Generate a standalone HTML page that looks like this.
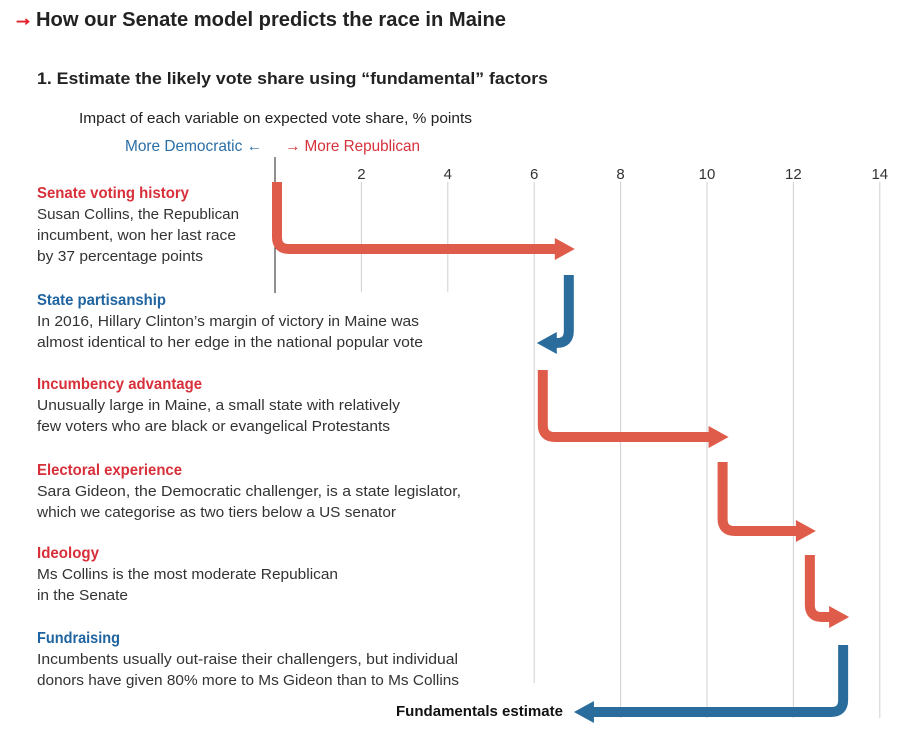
<!DOCTYPE html>
<html><head><meta charset="utf-8"><style>
html,body{margin:0;padding:0;background:#fff;width:915px;height:735px;overflow:hidden}
svg{display:block;font-family:"Liberation Sans",sans-serif}
.b{fill:#333;font-size:15px}
.r{fill:#d7303a;font-size:16px;font-weight:bold}
.u{fill:#1f64a0;font-size:16px;font-weight:bold}
</style></head><body>
<svg id="chart" width="915" height="735" viewBox="0 0 915 735">
<text x="13" y="25" fill="#e3202a" font-size="20" font-weight="bold" stroke="#e3202a" stroke-width="1">→</text>
<text x="36" y="26" fill="#222" font-size="20" font-weight="bold" textLength="470" lengthAdjust="spacingAndGlyphs">How our Senate model predicts the race in Maine</text>
<text x="37" y="84" fill="#222" font-size="17" font-weight="bold" textLength="511" lengthAdjust="spacingAndGlyphs">1. Estimate the likely vote share using “fundamental” factors</text>
<text x="79" y="123" fill="#222" font-size="15" textLength="393" lengthAdjust="spacingAndGlyphs">Impact of each variable on expected vote share, % points</text>
<text x="125" y="151" fill="#2a6ea6" font-size="16" textLength="137" lengthAdjust="spacingAndGlyphs">More Democratic ←</text>
<text x="285" y="151" fill="#d7303a" font-size="16" textLength="135" lengthAdjust="spacingAndGlyphs">→ More Republican</text>
<g id="grid"></g>
<g id="arrows"></g>

<text class="r" x="37" y="198" textLength="152" lengthAdjust="spacingAndGlyphs">Senate voting history</text>
<text class="b"><tspan x="37" y="219" textLength="202" lengthAdjust="spacingAndGlyphs">Susan Collins, the Republican</tspan><tspan x="37" y="240" textLength="199" lengthAdjust="spacingAndGlyphs">incumbent, won her last race</tspan><tspan x="37" y="261" textLength="166" lengthAdjust="spacingAndGlyphs">by 37 percentage points</tspan></text>

<text class="u" x="37" y="305" textLength="129" lengthAdjust="spacingAndGlyphs">State partisanship</text>
<text class="b"><tspan x="37" y="326" textLength="382" lengthAdjust="spacingAndGlyphs">In 2016, Hillary Clinton’s margin of victory in Maine was</tspan><tspan x="37" y="347" textLength="386" lengthAdjust="spacingAndGlyphs">almost identical to her edge in the national popular vote</tspan></text>

<text class="r" x="37" y="389" textLength="165" lengthAdjust="spacingAndGlyphs">Incumbency advantage</text>
<text class="b"><tspan x="37" y="410" textLength="363" lengthAdjust="spacingAndGlyphs">Unusually large in Maine, a small state with relatively</tspan><tspan x="37" y="431" textLength="353" lengthAdjust="spacingAndGlyphs">few voters who are black or evangelical Protestants</tspan></text>

<text class="r" x="37" y="475" textLength="145" lengthAdjust="spacingAndGlyphs">Electoral experience</text>
<text class="b"><tspan x="37" y="496" textLength="424" lengthAdjust="spacingAndGlyphs">Sara Gideon, the Democratic challenger, is a state legislator,</tspan><tspan x="37" y="517" textLength="359" lengthAdjust="spacingAndGlyphs">which we categorise as two tiers below a US senator</tspan></text>

<text class="r" x="37" y="558" textLength="62" lengthAdjust="spacingAndGlyphs">Ideology</text>
<text class="b"><tspan x="37" y="579" textLength="301" lengthAdjust="spacingAndGlyphs">Ms Collins is the most moderate Republican</tspan><tspan x="37" y="600" textLength="91" lengthAdjust="spacingAndGlyphs">in the Senate</tspan></text>

<text class="u" x="37" y="643" textLength="83" lengthAdjust="spacingAndGlyphs">Fundraising</text>
<text class="b"><tspan x="37" y="664" textLength="421" lengthAdjust="spacingAndGlyphs">Incumbents usually out-raise their challengers, but individual</tspan><tspan x="37" y="685" textLength="422" lengthAdjust="spacingAndGlyphs">donors have given 80% more to Ms Gideon than to Ms Collins</tspan></text>

<text x="396" y="716" fill="#111" font-size="15" font-weight="bold" textLength="167" lengthAdjust="spacingAndGlyphs">Fundamentals estimate</text>
</svg>
<script>
const factors = ["Senate voting history","State partisanship","Incumbency advantage","Electoral experience","Ideology","Fundraising"];
const effects = [6.94, -0.88, 4.44, 2.02, 0.77, -6.37];
const tickValues = [2,4,6,8,10,12,14];
const tickLabels = ["2","4","6","8","10","12","14"];

const NS="http://www.w3.org/2000/svg";
const x = v => 275 + 43.2 * v;
const rowTop = [182,275,370,462,555,645];
const rowY = [249,343,437,531,617,712];
const gridBottom = [292,292,683,718,718,718,718];

const grid=document.getElementById('grid');
tickValues.forEach((t,i)=>{
  const l=document.createElementNS(NS,'line');
  
  
  l.setAttribute('x1',x(t));l.setAttribute('x2',x(t));
  l.setAttribute('y1',182);l.setAttribute('y2',gridBottom[i]);
  l.setAttribute('stroke','#cdd0d6');l.setAttribute('stroke-width','1');
  grid.appendChild(l);
  const tx=document.createElementNS(NS,'text');
  
  
  tx.setAttribute('x',x(t));tx.setAttribute('y',179);
  tx.setAttribute('text-anchor','middle');tx.setAttribute('font-size','15');tx.setAttribute('fill','#333');
  tx.textContent=tickLabels[i];
  grid.appendChild(tx);
});
const z=document.createElementNS(NS,'line');


z.setAttribute('x1',x(0));z.setAttribute('x2',x(0));z.setAttribute('y1',157);z.setAttribute('y2',293);
z.setAttribute('stroke','#222');z.setAttribute('stroke-width','1');
grid.appendChild(z);

const arrows=document.getElementById('arrows');
let cur=0, prevDir=-1;
effects.forEach((e,i)=>{
  const end=cur+e;
  const dir=e>=0?1:-1;
  const vx = i===0 ? x(0)+2 : x(cur) + (prevDir>0?-6:6);
  const tip=x(end);
  const y=rowY[i], top=rowTop[i];
  const col = dir>0 ? '#e05c4a' : '#2a6d9c';
  const r=12, hl=20;
  const hEnd = tip - dir*hl;
  const p=document.createElementNS(NS,'path');
  
  
  p.setAttribute('d',`M${vx},${top} V${y-r} Q${vx},${y} ${vx+dir*r},${y} H${hEnd+dir*1}`);
  p.setAttribute('fill','none');p.setAttribute('stroke',col);p.setAttribute('stroke-width','10');
  arrows.appendChild(p);
  const h=document.createElementNS(NS,'polygon');
  
  
  h.setAttribute('points',`${tip},${y} ${hEnd},${y-11} ${hEnd},${y+11}`);
  h.setAttribute('fill',col);
  arrows.appendChild(h);
  cur=end; prevDir=dir;
});
</script>
</body></html>
